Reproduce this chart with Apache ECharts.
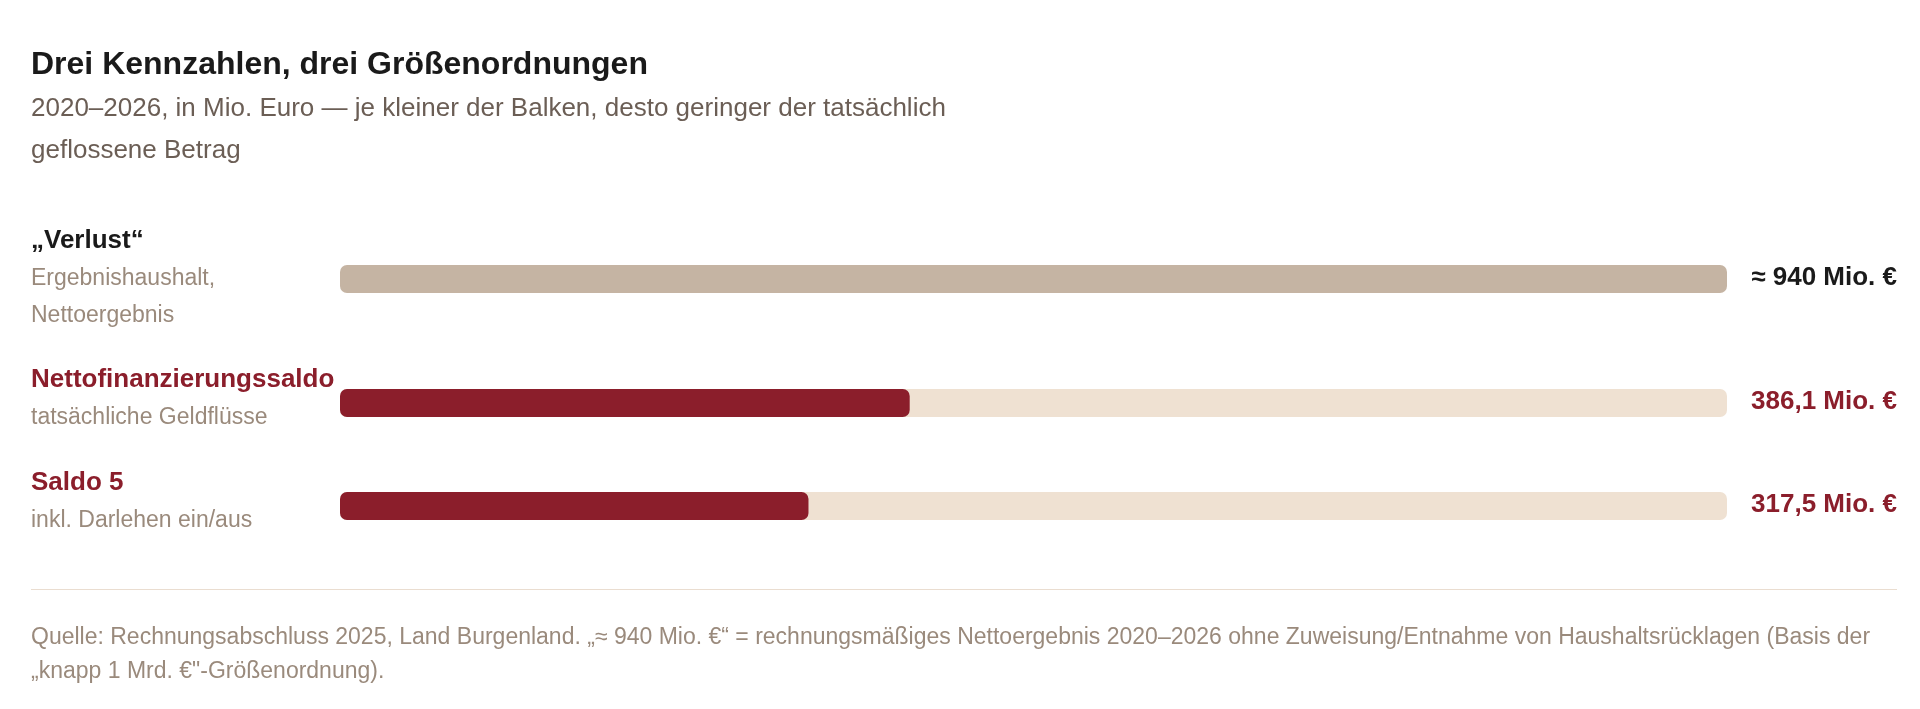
<!DOCTYPE html>
<html>
<head>
<meta charset="utf-8">
<script src="https://cdn.jsdelivr.net/npm/echarts@6/dist/echarts.min.js"></script>
<style>
  html, body { margin: 0; padding: 0; background: #fff; }
  #chart { width: 1920px; height: 709px; }
</style>
</head>
<body>
<div id="chart"></div>
<script>
// Data
const names = ['\u201EVerlust\u201C', 'Nettofinanzierungssaldo', 'Saldo 5'];
const subtitles = [['Ergebnishaushalt,', 'Nettoergebnis'], ['tats\u00e4chliche Geldfl\u00fcsse'], ['inkl. Darlehen ein/aus']];
const values = [940, 386.1, 317.5];
const valueLabels = ['\u2248 940 Mio. \u20AC', '386,1 Mio. \u20AC', '317,5 Mio. \u20AC'];
const maxValue = 940;

// Layout
const barCenters = [279, 403, 506];
const nameY = [244, 383, 486];
const barColors = ['#C5B4A3', '#8B1E2B', '#8B1E2B'];
const nameColors = ['#1a1a1a', '#8B1E2B', '#8B1E2B'];
const valueColors = ['#1a1a1a', '#8B1E2B', '#8B1E2B'];
const font = 'Liberation Sans, Arial, sans-serif';
const barH = 28;

const chart = echarts.init(document.getElementById('chart'));

const grids = [], xAxes = [], yAxes = [], series = [], graphics = [];

values.forEach((v, i) => {
  grids.push({ left: 340, right: 193, top: barCenters[i] - barH / 2, height: barH });
  xAxes.push({ gridIndex: i, type: 'value', min: 0, max: maxValue, show: false });
  yAxes.push({ gridIndex: i, type: 'category', data: [names[i]], show: false });
  series.push({
    type: 'bar',
    xAxisIndex: i,
    yAxisIndex: i,
    data: [v],
    barWidth: barH,
    showBackground: i > 0,
    backgroundStyle: { color: '#EFE1D2', borderRadius: 7 },
    itemStyle: { color: barColors[i], borderRadius: 7 },
    label: {
      show: true,
      position: 'insideRight',
      formatter: () => valueLabels[i],
      color: valueColors[i],
      fontFamily: font,
      fontSize: 26,
      fontWeight: 'bold'
    },
    labelLayout: () => ({ x: 1897, y: barCenters[i] - 1, align: 'right', verticalAlign: 'middle' }),
    silent: true
  });

  graphics.push({
    type: 'text', left: 31, top: nameY[i] - 16,
    style: { text: names[i], font: 'bold 26px ' + font, fill: nameColors[i] }
  });
  subtitles[i].forEach((s, j) => {
    graphics.push({
      type: 'text', left: 31, top: nameY[i] + 23 + j * 37,
      style: { text: s, font: '23px ' + font, fill: '#9A8A7C' }
    });
  });
});

graphics.push({
  type: 'rect', shape: { x: 31, y: 589, width: 1866, height: 1 },
  style: { fill: '#EADDD0' }
});

chart.setOption({
  backgroundColor: '#fff',
  animation: false,
  title: [
    {
      text: 'Drei Kennzahlen, drei Gr\u00f6\u00dfenordnungen',
      left: 26, top: 44,
      textStyle: { fontFamily: font, fontSize: 32, fontWeight: 'bold', color: '#1a1a1a' }
    },
    {
      text: '2020\u20132026, in Mio. Euro \u2014 je kleiner der Balken, desto geringer der tats\u00e4chlich\ngeflossene Betrag',
      left: 26, top: 83,
      textStyle: { fontFamily: font, fontSize: 26, fontWeight: 'normal', color: '#6B5E55', lineHeight: 42 }
    },
    {
      text: 'Quelle: Rechnungsabschluss 2025, Land Burgenland. \u201E\u2248 940 Mio. \u20AC\u201C = rechnungsm\u00e4\u00dfiges Nettoergebnis 2020\u20132026 ohne Zuweisung/Entnahme von Haushaltsr\u00fccklagen (Basis der\n\u201Eknapp 1 Mrd. \u20AC"-Gr\u00f6\u00dfenordnung).',
      left: 26, top: 616,
      textStyle: { fontFamily: font, fontSize: 23, fontWeight: 'normal', color: '#9A8A7C', lineHeight: 34 }
    }
  ],
  grid: grids,
  xAxis: xAxes,
  yAxis: yAxes,
  series: series,
  graphic: graphics
});
</script>
</body>
</html>
